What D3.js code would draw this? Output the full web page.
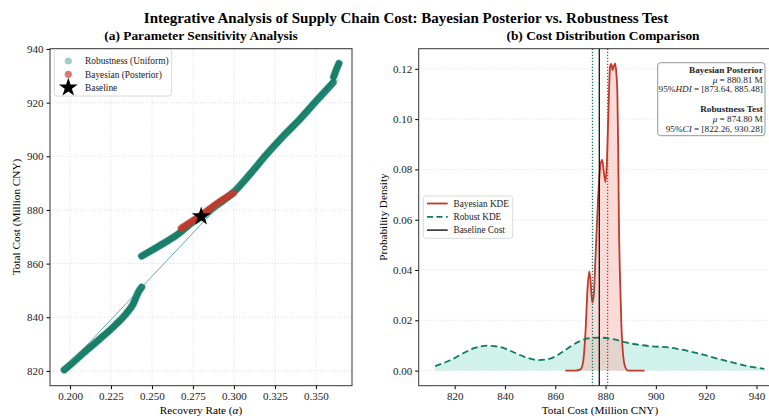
<!DOCTYPE html>
<html>
<head>
<meta charset="utf-8">
<script src="https://cdn.jsdelivr.net/npm/d3@7"></script>
<style>
  body { margin: 0; background: #fff; }
  svg { font-family: "Liberation Serif", "DejaVu Serif", serif; display: block; }
</style>
</head>
<body>
<svg id="chart" width="769" height="416"></svg>
<script>
// ---- data ----
// (a) scatter bands: [recovery rate, total cost]
const robustLow = [[0.1965, 820.4], [0.200, 822.2], [0.208, 826.6], [0.218, 831.8], [0.228, 837.3],
  [0.2346, 841.6], [0.2386, 845.0], [0.2417, 849.4], [0.2437, 851.2]];
const robustHigh = [[0.2437, 862.8], [0.255, 866.8], [0.265, 870.6], [0.275, 875.5], [0.2793, 877.2],
  [0.290, 882.0], [0.2996, 886.5], [0.310, 893.5], [0.320, 900.8], [0.330, 907.5],
  [0.3402, 913.8], [0.350, 920.5], [0.3605, 927.5]];
const robustTail = [[0.3608, 929.6], [0.3625, 932.4], [0.3640, 934.6]];
const bayesBand = [[0.2680, 873.2], [0.275, 876.0], [0.2793, 877.7], [0.285, 880.3], [0.292, 883.3], [0.2996, 886.3]];
const trendLine = [[0.1960, 820.4], [0.2437, 851.2], [0.3636, 928.7]];
const baselinePoint = [0.2800, 877.6];

// (b) kernel density curves
const bayesKdeX = [864.0, 868.0, 870.0, 871.0, 872.0, 872.8, 873.5, 874.0, 874.7, 875.3, 876.0, 877.0,
  878.0, 878.7, 879.3, 880.0, 880.6, 881.2, 881.8, 882.3, 882.8, 883.3, 883.8, 884.3, 884.7,
  885.0, 885.3, 885.8, 886.3, 887.0, 888.0, 889.0, 895.5];
const bayesKdeY = [0, 0, 0.0005, 0.003, 0.015, 0.032, 0.0394, 0.036, 0.027, 0.030, 0.045, 0.068,
  0.082, 0.0838, 0.079, 0.075, 0.085, 0.105, 0.121, 0.122, 0.1195, 0.121, 0.1222, 0.118, 0.110,
  0.090, 0.060, 0.035, 0.018, 0.006, 0.001, 0, 0];
const robustKdeX = [812.2, 818, 824, 828, 833, 838, 843, 848, 853, 858, 863, 868, 873, 878, 883,
  888, 893, 898, 905, 911, 917, 923, 929, 935, 943.1];
const robustKdeY = [0.0018, 0.0040, 0.0072, 0.0090, 0.0099, 0.0094, 0.0075, 0.0054, 0.0042, 0.0048,
  0.0075, 0.0108, 0.0128, 0.0131, 0.0125, 0.0112, 0.0103, 0.0097, 0.0092, 0.0082, 0.0068, 0.0052,
  0.0036, 0.0021, 0.0007];
const robustMean = 874.80, bayesMean = 880.81, baselineCost = 877.5;

const xTicksL = [0.200, 0.225, 0.250, 0.275, 0.300, 0.325, 0.350];
const yTicksL = [820, 840, 860, 880, 900, 920, 940];
const xTicksR = [820, 840, 860, 880, 900, 920, 940];
const yTicksR = [0.00, 0.02, 0.04, 0.06, 0.08, 0.10, 0.12];

const teal = "#117A65", red = "#C0392B";
const tickFont = 11, labelFont = 11.2;
const svg = d3.select("#chart");

svg.append("text").attr("x", 406).attr("y", 23).attr("text-anchor", "middle")
  .attr("font-size", 15).attr("font-weight", "bold")
  .text("Integrative Analysis of Supply Chain Cost: Bayesian Posterior vs. Robustness Test");

// ---------- (a) ----------
const xL = d3.scaleLinear([0.1878, 0.372], [50, 352]);
const yL = d3.scaleLinear([814.5, 940.1], [385.7, 48.7]);
const gA = svg.append("g");

gA.append("text").attr("x", 201).attr("y", 40).attr("text-anchor", "middle")
  .attr("font-size", 13.4).attr("font-weight", "bold").text("(a) Parameter Sensitivity Analysis");

const gridA = gA.append("g").attr("stroke", "#d4d4d4").attr("stroke-width", 0.8).attr("stroke-dasharray", "1,2");
xTicksL.forEach(t => gridA.append("line").attr("x1", xL(t)).attr("x2", xL(t)).attr("y1", 48.7).attr("y2", 385.7));
yTicksL.forEach(t => gridA.append("line").attr("y1", yL(t)).attr("y2", yL(t)).attr("x1", 50).attr("x2", 352));

const lineL = d3.line().x(d => xL(d[0])).y(d => yL(d[1])).curve(d3.curveMonotoneX);
function band(data, color) {
  gA.append("path").attr("d", lineL(data)).attr("fill", "none").attr("stroke", color)
    .attr("stroke-opacity", 0.35).attr("stroke-width", 8).attr("stroke-linecap", "round");
  gA.append("path").attr("d", lineL(data)).attr("fill", "none").attr("stroke", color)
    .attr("stroke-opacity", 0.95).attr("stroke-width", 6.6).attr("stroke-linecap", "round");
}
band(robustLow, teal);
band(robustHigh, teal);
band(robustTail, teal);
band(bayesBand, red);

gA.append("path").attr("d", d3.line().x(d => xL(d[0])).y(d => yL(d[1]))(trendLine))
  .attr("fill", "none").attr("stroke", "#2a9a85").attr("stroke-width", 0.9).attr("stroke-opacity", 0.85);

gA.append("path").attr("d", d3.symbol(d3.symbolStar, 110)())
  .attr("transform", `translate(${xL(baselinePoint[0])},${yL(baselinePoint[1])})`).attr("fill", "#000");

gA.append("g").attr("transform", "translate(0,385.7)")
  .call(d3.axisBottom(xL).tickValues(xTicksL).tickFormat(d3.format(".3f")).tickSize(3.5))
  .call(g => g.selectAll("text").attr("font-size", tickFont).attr("font-family", "Liberation Serif").attr("fill", "#222"));
gA.append("g").attr("transform", "translate(50,0)")
  .call(d3.axisLeft(yL).tickValues(yTicksL).tickSize(3.5))
  .call(g => g.selectAll("text").attr("font-size", tickFont).attr("font-family", "Liberation Serif").attr("fill", "#222"));
gA.selectAll(".domain").remove();
gA.append("rect").attr("x", 50).attr("y", 48.7).attr("width", 302).attr("height", 337)
  .attr("fill", "none").attr("stroke", "#333").attr("stroke-width", 1);

gA.append("text").attr("x", 201).attr("y", 414).attr("text-anchor", "middle").attr("font-size", labelFont)
  .html('Recovery Rate (<tspan font-style="italic">α</tspan>)');
gA.append("text").attr("transform", "translate(20,217) rotate(-90)").attr("text-anchor", "middle")
  .attr("font-size", labelFont).text("Total Cost (Million CNY)");

// legend (a)
const legA = gA.append("g");
legA.append("rect").attr("x", 54.3).attr("y", 49.5).attr("width", 117.4).attr("height", 46.5).attr("rx", 2.5)
  .attr("fill", "#fff").attr("fill-opacity", 0.85).attr("stroke", "#d0d0d0").attr("stroke-width", 0.8);
const legItemsA = [
  {label: "Robustness (Uniform)", color: teal, op: 0.38},
  {label: "Bayesian (Posterior)", color: red, op: 0.65},
  {label: "Baseline", color: "#000", op: 1}
];
legItemsA.forEach((d, i) => {
  const y = 61 + i * 13.3;
  if (i < 2) legA.append("circle").attr("cx", 68.3).attr("cy", y).attr("r", 3.6).attr("fill", d.color).attr("fill-opacity", d.op);
  else legA.append("path").attr("d", d3.symbol(d3.symbolStar, 110)()).attr("transform", `translate(68.3,${y})`);
  legA.append("text").attr("x", 85).attr("y", y + 3.3).attr("font-size", 9.4).attr("fill", "#222").text(d.label);
});

// ---------- (b) ----------
const xR = d3.scaleLinear([805.7, 949.6], [418.7, 780.6]);
const yR = d3.scaleLinear([-0.006, 0.128], [385.7, 48.7]);
const gB = svg.append("g");

gB.append("text").attr("x", 603).attr("y", 40).attr("text-anchor", "middle")
  .attr("font-size", 13.4).attr("font-weight", "bold").text("(b) Cost Distribution Comparison");

const gridB = gB.append("g").attr("stroke", "#d4d4d4").attr("stroke-width", 0.8).attr("stroke-dasharray", "1,2");
yTicksR.forEach(t => gridB.append("line").attr("y1", yR(t)).attr("y2", yR(t)).attr("x1", 418.7).attr("x2", 780.6));

const robustPts = robustKdeX.map((x, i) => [x, robustKdeY[i]]);
const bayesPts = bayesKdeX.map((x, i) => [x, bayesKdeY[i]]);
const areaR = d3.area().x(d => xR(d[0])).y0(yR(0)).y1(d => yR(d[1])).curve(d3.curveMonotoneX);
const lineR = d3.line().x(d => xR(d[0])).y(d => yR(d[1])).curve(d3.curveMonotoneX);

gB.append("path").attr("d", areaR(robustPts)).attr("fill", "#A3E4D7").attr("fill-opacity", 0.5);
gB.append("path").attr("d", areaR(bayesPts)).attr("fill", "#F5B7B1").attr("fill-opacity", 0.5);
gB.append("path").attr("d", lineR(bayesPts)).attr("fill", "none").attr("stroke", red).attr("stroke-width", 1.8);
gB.append("path").attr("d", lineR(robustPts)).attr("fill", "none").attr("stroke", teal)
  .attr("stroke-width", 1.8).attr("stroke-dasharray", "6.5,3.5");

[[robustMean, teal, "1.2,1.8"], [bayesMean, red, "1.2,1.8"], [baselineCost, "#000", null]].forEach(([v, c, dash]) => {
  const l = gB.append("line").attr("x1", xR(v)).attr("x2", xR(v)).attr("y1", 48.7).attr("y2", 385.7)
    .attr("stroke", c).attr("stroke-width", dash ? 1.3 : 1.2);
  if (dash) l.attr("stroke-dasharray", dash);
});

gB.append("g").attr("transform", "translate(0,385.7)")
  .call(d3.axisBottom(xR).tickValues(xTicksR).tickSize(3.5))
  .call(g => g.selectAll("text").attr("font-size", tickFont).attr("font-family", "Liberation Serif").attr("fill", "#222"));
gB.append("g").attr("transform", "translate(418.7,0)")
  .call(d3.axisLeft(yR).tickValues(yTicksR).tickFormat(d3.format(".2f")).tickSize(3.5))
  .call(g => g.selectAll("text").attr("font-size", tickFont).attr("font-family", "Liberation Serif").attr("fill", "#222"));
gB.selectAll(".domain").remove();
gB.append("rect").attr("x", 418.7).attr("y", 48.7).attr("width", 361.9).attr("height", 337)
  .attr("fill", "none").attr("stroke", "#333").attr("stroke-width", 1);

gB.append("text").attr("x", 600).attr("y", 414).attr("text-anchor", "middle").attr("font-size", labelFont)
  .text("Total Cost (Million CNY)");
gB.append("text").attr("transform", "translate(387,217) rotate(-90)").attr("text-anchor", "middle")
  .attr("font-size", labelFont).text("Probability Density");

// legend (b)
const legB = gB.append("g");
legB.append("rect").attr("x", 423.3).attr("y", 196).attr("width", 89.4).attr("height", 42.3).attr("rx", 2.5)
  .attr("fill", "#fff").attr("fill-opacity", 0.85).attr("stroke", "#d0d0d0").attr("stroke-width", 0.8);
const legItemsB = [
  {label: "Bayesian KDE", color: red, dash: null},
  {label: "Robust KDE", color: teal, dash: "6,3.5"},
  {label: "Baseline Cost", color: "#000", dash: null}
];
legItemsB.forEach((d, i) => {
  const y = 203.5 + i * 13.3;
  const l = legB.append("line").attr("x1", 427).attr("x2", 447.7).attr("y1", y).attr("y2", y)
    .attr("stroke", d.color).attr("stroke-width", i === 2 ? 1.3 : 1.8);
  if (d.dash) l.attr("stroke-dasharray", d.dash);
  legB.append("text").attr("x", 453.5).attr("y", y + 3.2).attr("font-size", 9.3).attr("fill", "#222").text(d.label);
});

// annotation box
const ann = gB.append("g");
ann.append("rect").attr("x", 657.7).attr("y", 62.7).attr("width", 107.3).attr("height", 73).attr("rx", 3)
  .attr("fill", "#fff").attr("fill-opacity", 0.9).attr("stroke", "#8a8a8a").attr("stroke-width", 0.9);
const annLines = [
  {y: 72.8, html: "Bayesian Posterior", bold: true},
  {y: 82.6, html: '<tspan font-style="italic">μ</tspan> = 880.81 M'},
  {y: 92.4, html: '95%<tspan font-style="italic">HDI</tspan> = [873.64, 885.48]'},
  {y: 111.9, html: "Robustness Test", bold: true},
  {y: 121.7, html: '<tspan font-style="italic">μ</tspan> = 874.80 M'},
  {y: 131.5, html: '95%<tspan font-style="italic">CI</tspan> = [822.26, 930.28]'}
];
annLines.forEach(d => {
  ann.append("text").attr("x", 762.8).attr("y", d.y).attr("text-anchor", "end").attr("font-size", 9.2)
    .attr("font-weight", d.bold ? "bold" : null).attr("fill", "#222").html(d.html);
});
</script>
</body>
</html>
